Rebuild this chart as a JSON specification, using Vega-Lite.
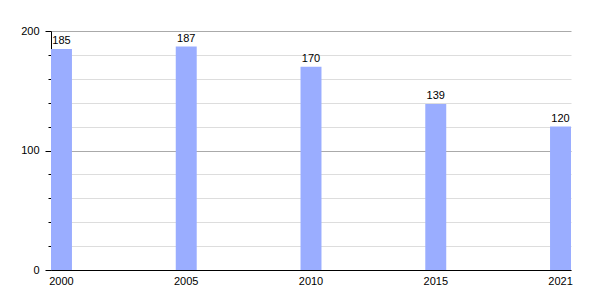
{
  "$schema": "https://vega.github.io/schema/vega-lite/v6.json",
  "width": 520,
  "height": 239,
  "autosize": "none",
  "padding": {"left": 51, "top": 31, "right": 29, "bottom": 30},
  "background": "white",
  "config": {"view": {"stroke": null}, "font": "Liberation Sans"},
  "data": {"values": [
    {"year": "2000", "value": 185},
    {"year": "2005", "value": 187},
    {"year": "2010", "value": 170},
    {"year": "2015", "value": 139},
    {"year": "2021", "value": 120}
  ]},
  "encoding": {
    "x": {
      "field": "year", "type": "ordinal",
      "scale": {"paddingInner": 0.832, "paddingOuter": 0},
      "axis": {"title": null, "labelAngle": 0, "ticks": false, "domainColor": "#000", "labelFontSize": 11, "labelColor": "#000", "labelPadding": 5, "labelFont": "Liberation Sans"}
    },
    "y": {
      "field": "value", "type": "quantitative",
      "scale": {"domain": [0, 200], "nice": false},
      "axis": {
        "title": null,
        "values": [0, 20, 40, 60, 80, 100, 120, 140, 160, 180, 200],
        "grid": true,
        "gridColor": {"condition": {"test": "datum.value % 100 === 0", "value": "#aaaaaa"}, "value": "#dddddd"},
        "gridOpacity": 1,
        "tickSize": {"condition": {"test": "datum.value % 100 === 0", "value": 6}, "value": 3},
        "tickColor": "#000",
        "domainColor": "#000",
        "labelExpr": "datum.value % 100 === 0 ? datum.label : ''",
        "labelFontSize": 11,
        "labelColor": "#000",
        "labelPadding": 6,
        "labelFont": "Liberation Sans"
      }
    }
  },
  "layer": [
    {"mark": {"type": "bar", "color": "#9aadff"}},
    {"mark": {"type": "text", "baseline": "bottom", "dy": -3, "fontSize": 11, "color": "#000", "font": "Liberation Sans"},
     "encoding": {"text": {"field": "value", "type": "quantitative"}}}
  ]
}
